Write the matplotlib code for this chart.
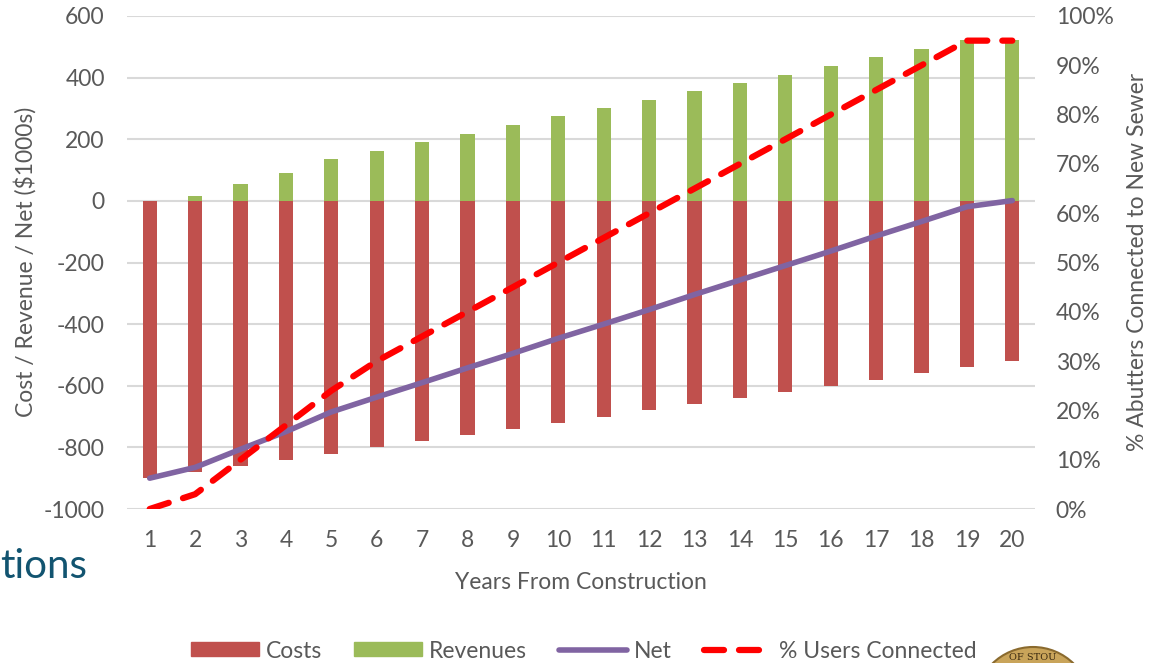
import matplotlib
matplotlib.use("Agg")
import matplotlib.pyplot as plt
from matplotlib.patches import Ellipse
from matplotlib.lines import Line2D
from matplotlib.patches import Patch
from matplotlib.ticker import FuncFormatter

plt.rcParams['font.family'] = ['Lato', 'DejaVu Sans']
plt.rcParams['axes.unicode_minus'] = False

# values in $1000s, per year after construction
years = list(range(1, 21))
costs = [-900, -880, -860, -840, -820, -800, -780, -760, -740, -720,
         -700, -680, -660, -640, -620, -600, -580, -560, -540, -520]
revenues = [0, 15, 54, 91, 135, 163, 190, 218, 245, 274,
            300, 327, 356, 383, 410, 437, 466, 493, 521, 521]
net = [c + r for c, r in zip(costs, revenues)]
# share of abutters hooked up, %
pct_connected = [0, 3, 10, 17, 24, 30, 35, 40, 45, 50,
                 55, 60, 65, 70, 75, 80, 85, 90, 95, 95]

C_COST = '#C0504D'
C_REV = '#9BBB59'
C_NET = '#8064A2'
C_PCT = '#FF0000'
C_TEXT = '#595959'
C_GRID = '#D9D9D9'
FS = 16.5

fig = plt.figure(figsize=(11.57, 6.63), dpi=100)
ax = fig.add_axes([127 / 1157, 1 - 509 / 663, (1035 - 127) / 1157, (509 - 16) / 663])
ax2 = ax.twinx()

ax.bar(years, costs, width=0.31, color=C_COST, zorder=2)
ax.bar(years, revenues, width=0.31, color=C_REV, zorder=2)
ax.plot(years, net, color=C_NET, lw=4, solid_capstyle='round', zorder=3)

ax.set_xlim(0.5, 20.5)
ax.set_ylim(-1000, 600)
ax.set_yticks(range(-1000, 601, 200))
ax.set_xticks(years)
ax.grid(axis='y', color=C_GRID, lw=1.5, zorder=0)
ax.set_axisbelow(True)

ax2.plot(years, pct_connected, color=C_PCT, lw=4.5, dashes=(3.2, 2.4),
         dash_capstyle='round', zorder=4)
ax2.set_ylim(0, 100)
ax2.set_yticks(range(0, 101, 10))
ax2.yaxis.set_major_formatter(FuncFormatter(lambda v, p: f'{v:.0f}%'))

# put the dashed line above the bars of the first axes
ax2.set_zorder(ax.get_zorder() + 1)
ax2.patch.set_visible(False)

for a in (ax, ax2):
    for s in a.spines.values():
        s.set_visible(False)
    a.tick_params(length=0, labelsize=FS, labelcolor=C_TEXT)
ax.tick_params(axis='y', pad=16)
ax.tick_params(axis='x', pad=15)
ax2.tick_params(axis='y', pad=15)

ax.set_xlabel('Years From Construction', fontsize=FS, color=C_TEXT, labelpad=15)
fig.text(25 / 1157, 1 - 262 / 663, 'Cost / Revenue / Net ($1000s)', rotation=90,
         fontsize=FS, color=C_TEXT, ha='center', va='center')
fig.text(1137 / 1157, 1 - 262 / 663, '% Abutters Connected to New Sewer', rotation=90,
         fontsize=FS, color=C_TEXT, ha='center', va='center')

handles = [
    Patch(color=C_COST, label='Costs'),
    Patch(color=C_REV, label='Revenues'),
    Line2D([], [], color=C_NET, lw=4, solid_capstyle='round', label='Net'),
    Line2D([], [], color=C_PCT, lw=4.5, dashes=(3.2, 2.4), dash_capstyle='round',
           label='% Users Connected'),
]
fig.legend(handles=handles, loc='center', bbox_to_anchor=(584 / 1157, 1 - 651 / 663),
           ncol=4, frameon=False, fontsize=FS, labelcolor=C_TEXT,
           handlelength=2.97, handleheight=0.57, handletextpad=0.3, columnspacing=1.4,
           borderpad=0.1)

# slide title fragment and seal peeking in at the edges
fig.text(0.0, 1 - 566 / 663, 'tions', fontsize=29, color='#125470',
         ha='left', va='center')
seal = Ellipse((1033 / 1157, 1 - 705 / 663), 116 / 1157, 116 / 663,
               transform=fig.transFigure, facecolor='#C9A45A', edgecolor='#8A6A2E',
               lw=1.5, clip_on=False)
fig.patches.append(seal)
fig.text(1033 / 1157, 1 - 657 / 663, 'OF STOU', fontsize=7, color='#3B2A10',
         family='DejaVu Serif', ha='center', va='center')

fig.savefig('out.png', dpi=100)
